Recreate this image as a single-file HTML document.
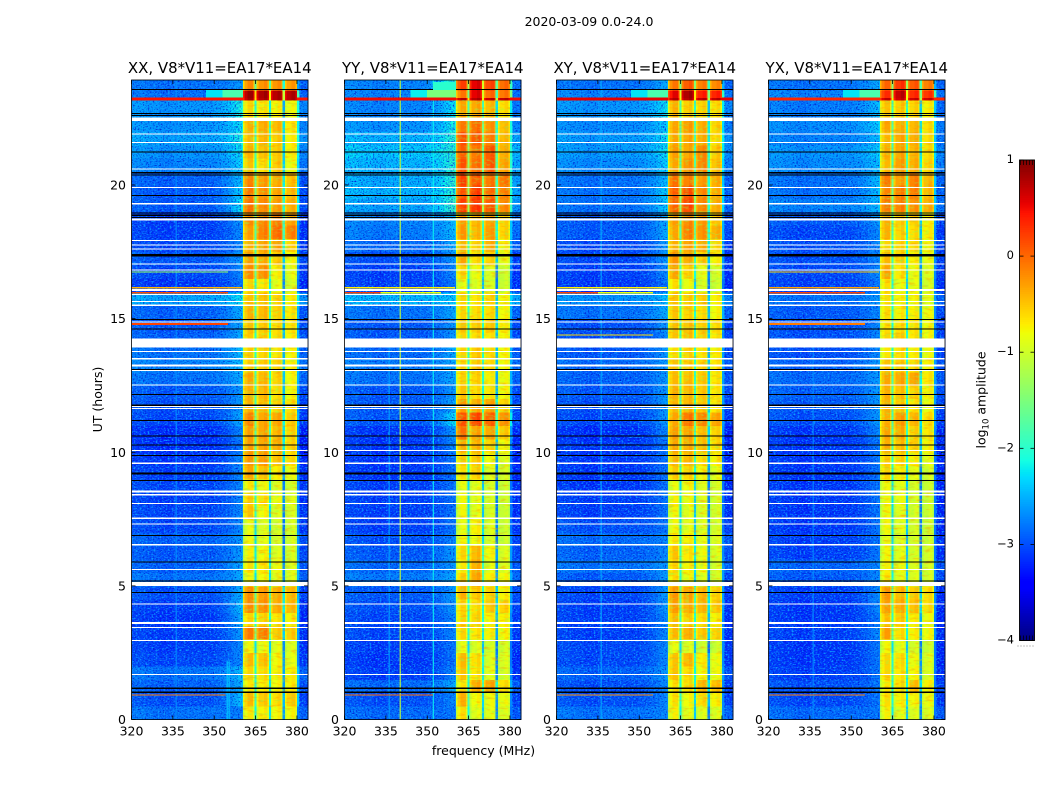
<!DOCTYPE html>
<html lang="en">
<head>
<meta charset="utf-8">
<title>2020-03-09 0.0-24.0 amplitude waterfall</title>
<style>
html,body{margin:0;padding:0;background:#fff;width:1050px;height:800px;overflow:hidden}
svg{display:block;font-family:"DejaVu Sans","Liberation Sans",sans-serif;fill:#000}
text{font-size:12.5px}
.ttl{font-size:14.95px}
</style>
</head>
<body>
<svg id="chart" xmlns="http://www.w3.org/2000/svg" width="1050" height="800" viewBox="0 0 1050 800">
<defs>
<filter id="grain-dark" color-interpolation-filters="sRGB" x="0" y="0" width="100%" height="100%"><feTurbulence type="fractalNoise" baseFrequency="0.6 0.75" numOctaves="2" seed="4"/><feColorMatrix type="matrix" values="0 0 0 0 0 0 0 0 0 0.08 0 0 0 0 0.8 3 0 0 0 -1.45"/></filter>
<filter id="grain-light" color-interpolation-filters="sRGB" x="0" y="0" width="100%" height="100%"><feTurbulence type="fractalNoise" baseFrequency="0.5 0.7" numOctaves="2" seed="11"/><feColorMatrix type="matrix" values="0 0 0 0 0.05 0 0 0 0 0.62 0 0 0 0 1 0 3.5 0 0 -1.72"/></filter>
<filter id="grain-band-warm" color-interpolation-filters="sRGB" x="0" y="0" width="100%" height="100%"><feTurbulence type="fractalNoise" baseFrequency="0.12 0.4" numOctaves="2" seed="7"/><feColorMatrix type="matrix" values="0 0 0 0 1 0 0 0 0 0.55 0 0 0 0 0 1.6 0 0 0 -0.85"/></filter>
<filter id="grain-band-cool" color-interpolation-filters="sRGB" x="0" y="0" width="100%" height="100%"><feTurbulence type="fractalNoise" baseFrequency="0.2 0.45" numOctaves="2" seed="19"/><feColorMatrix type="matrix" values="0 0 0 0 0.55 0 0 0 0 1 0 0 0 0 0.3 0 1.6 0 0 -0.85"/></filter>
</defs>
<text x="589" y="26" text-anchor="middle">2020-03-09 0.0-24.0</text>
<text x="483.5" y="755" text-anchor="middle">frequency (MHz)</text>
<text transform="translate(102,399.5) rotate(-90)" text-anchor="middle">UT (hours)</text>
<text transform="translate(985.5,400) rotate(-90)" text-anchor="middle">log<tspan dy="3" style="font-size:8.5px">10</tspan><tspan dy="-3"> amplitude</tspan></text>
<g id="panels"></g>
<g id="colorbar"></g>
</svg>
<script>
// Axis tick values
const freqTicks = [320, 335, 350, 365, 380];
const hourTicks = [0, 5, 10, 15, 20];
const colorTicks = [1, 0, -1, -2, -3, -4];
const panelTitles = ["XX, V8*V11=EA17*EA14", "YY, V8*V11=EA17*EA14", "XY, V8*V11=EA17*EA14", "YX, V8*V11=EA17*EA14"];

// Time-row edges (UT hours)
const hourEdges = [0,0.5,1,1.5,2,2.5,3,3.5,4,4.5,5,5.5,6,6.5,7,7.5,8,8.5,9,9.5,10,10.5,11,11.5,12,12.5,13,13.5,14,14.5,15,15.5,16,16.5,17,17.5,18,18.5,19,19.5,20,20.5,21,21.5,22,22.5,23.17,23.27,23.55,23.93];

// log10 amplitude per time row: [background, near-band, sub-band 1, 2, 3, 4]
const xxLevels = [
[-2.7,-2.75,-0.7,-0.7,-0.75,-0.75],[-2.9,-2.4,-0.45,-0.5,-0.6,-0.5],[-2.8,-2.5,-0.7,-0.7,-0.75,-0.7],[-2.7,-2.4,-0.6,-0.6,-0.7,-0.7],
[-2.95,-2.7,-0.45,-0.45,-0.75,-0.85],[-3,-2.7,-0.8,-0.8,-0.85,-0.9],[-3,-2.6,-0.1,-0.1,-0.5,-0.5],[-3.05,-2.5,-0.6,-0.55,-0.65,-0.7],
[-3,-2.4,-0.2,-0.2,-0.35,-0.4],[-2.9,-2.5,-0.2,-0.25,-0.35,-0.4],[-2.7,-2.5,-0.8,-0.75,-0.85,-0.9],[-2.8,-2.5,-0.65,-0.65,-0.8,-0.9],
[-2.85,-2.6,-0.75,-0.75,-0.9,-0.95],[-2.8,-2.6,-0.8,-0.85,-0.95,-0.95],[-2.95,-2.7,-0.85,-0.9,-0.95,-0.95],[-2.95,-2.7,-0.5,-0.75,-0.9,-0.95],
[-3,-2.7,-0.55,-0.6,-0.8,-0.9],[-2.95,-2.7,-0.7,-0.8,-0.9,-0.95],[-3,-2.7,-0.35,-0.45,-0.7,-0.8],[-3.05,-2.7,-0.25,-0.25,-0.45,-0.6],
[-3.1,-2.8,-0.3,-0.3,-0.35,-0.55],[-3.1,-2.7,-0.3,-0.3,-0.4,-0.55],[-2.95,-2.5,-0.15,-0.3,-0.3,-0.5],[-2.9,-2.6,-0.4,-0.45,-0.55,-0.6],
[-2.85,-2.6,-0.4,-0.4,-0.6,-0.75],[-2.7,-2.5,-0.35,-0.4,-0.55,-0.75],[-2.6,-2.4,-0.55,-0.5,-0.55,-0.7],[-2.7,-2.4,-0.55,-0.55,-0.65,-0.75],
[-2.8,-2.5,-0.55,-0.55,-0.6,-0.7],[-2.85,-2.5,-0.5,-0.5,-0.6,-0.65],[-2.8,-2.5,-0.4,-0.4,-0.55,-0.65],[-2.4,-2.2,-0.5,-0.45,-0.55,-0.7],
[-3.05,-2.8,-0.6,-0.65,-0.85,-0.95],[-2.95,-2.7,-0.2,-0.2,-0.7,-0.85],[-2.85,-2.6,-0.3,-0.35,-0.5,-0.75],[-2.95,-2.7,-0.4,-0.3,-0.3,-0.55],
[-3,-2.7,-0.3,-0.1,0,-0.1],[-3,-2.6,-0.2,-0.15,-0.1,-0.3],[-2.85,-2.2,-0.05,-0.15,-0.25,-0.35],[-2.85,-2.3,-0.1,-0.2,-0.3,-0.4],
[-2.8,-2.4,-0.15,-0.25,-0.35,-0.45],[-2.6,-2.3,-0.5,-0.6,-0.5,-0.8],[-2.5,-2.2,-0.4,-0.45,-0.5,-0.7],[-2.4,-2.1,-0.45,-0.4,-0.5,-0.7],
[-2.5,-2.2,-0.4,-0.35,-0.4,-0.65],[-2.5,-2.1,-0.6,-0.65,-0.7,-0.8],[0.4,0.45,0.8,0.8,0.8,0.8],[-2.7,-1.8,0.85,0.85,0.8,0.8],[-2.7,-2.6,-0.2,-0.2,-0.2,-0.25]];

const yyLevels = [
[-2.75,-2.8,-0.65,-0.85,-0.85,-0.9],[-2.9,-2.7,-0.4,-0.75,-0.8,-0.8],[-2.75,-2.5,-0.7,-0.35,-0.3,-0.6],[-3,-2.7,-0.5,-0.65,-0.85,-0.95],
[-3.05,-2.8,-0.45,-0.6,-0.9,-0.9],[-3,-2.8,-0.85,-0.9,-0.95,-0.95],[-2.95,-2.7,-0.6,-0.65,-0.7,-0.75],[-2.95,-2.7,-0.6,-0.55,-0.7,-0.7],
[-2.9,-2.6,-0.6,-0.6,-0.5,-0.55],[-2.85,-2.6,-0.4,-0.5,-0.55,-0.7],[-2.65,-2.5,-0.55,-0.3,-0.7,-0.75],[-2.75,-2.6,-0.7,-0.35,-0.85,-0.9],
[-2.85,-2.6,-0.6,-0.4,-0.75,-0.9],[-2.9,-2.7,-0.8,-0.75,-0.95,-1],[-3,-2.8,-0.85,-0.7,-0.9,-1],[-3,-2.8,-0.8,-0.85,-0.95,-1],
[-3,-2.8,-0.8,-0.85,-0.95,-1],[-3,-2.8,-0.85,-0.85,-0.95,-1],[-3.05,-2.8,-0.65,-0.55,-0.9,-0.95],[-3.05,-2.8,-0.55,-0.5,-0.75,-0.9],
[-3.05,-2.7,-0.4,-0.4,-0.55,-0.75],[-3.05,-2.6,-0.05,-0.3,-0.3,-0.5],[-2.85,-2.2,0.1,0.2,0.05,-0.2],[-2.85,-2.5,-0.3,-0.35,-0.3,-0.55],
[-2.85,-2.6,-0.5,-0.6,-0.65,-0.75],[-2.7,-2.5,-0.6,-0.55,-0.7,-0.8],[-2.65,-2.5,-0.6,-0.5,-0.6,-0.75],[-2.75,-2.5,-0.6,-0.5,-0.6,-0.75],
[-2.85,-2.6,-0.6,-0.6,-0.65,-0.75],[-2.85,-2.6,-0.5,-0.5,-0.5,-0.7],[-2.7,-2.5,-0.6,-0.6,-0.6,-0.75],[-2.3,-2.3,-0.6,-0.65,-0.55,-0.75],
[-3,-2.8,-0.85,-0.9,-0.95,-1],[-3,-2.7,-0.6,-0.8,-0.9,-1],[-2.9,-2.6,-0.35,-0.6,-0.55,-0.85],[-2.75,-2.5,-0.45,-0.55,-0.35,-0.7],
[-2.65,-2.4,-0.25,-0.4,-0.25,-0.55],[-2.6,-2.4,-0.3,-0.4,-0.3,-0.55],[-2.4,-1.9,0.2,0.3,0.1,-0.15],[-2.3,-2,0.1,0.25,0,-0.1],
[-2.35,-2,0.2,0.1,-0.05,-0.05],[-2.3,-2,0.1,0,0.1,-0.3],[-2.2,-2,0.05,-0.05,0.1,-0.35],[-2.3,-2,0.1,0.1,-0.1,-0.4],
[-2.5,-2.1,-0.1,0,-0.2,-0.45],[-2.6,-2.2,-0.35,-0.3,-0.4,-0.6],[0.4,0.5,0.75,0.8,0.75,0.75],[-2.6,-1.5,-0.1,0.6,0,-0.05],[-2.6,-1.9,0.2,0.6,0.2,0]];

const xyLevels = [
[-2.7,-2.7,-0.75,-0.85,-0.9,-0.9],[-2.9,-2.7,-0.65,-0.75,-0.6,-0.7],[-2.9,-2.7,-0.65,-0.6,-0.4,-0.45],[-2.8,-2.6,-0.5,-0.6,-0.75,-0.8],
[-2.95,-2.7,-0.5,-0.4,-0.7,-0.8],[-2.95,-2.7,-0.85,-0.9,-1,-1],[-3,-2.7,-0.45,-0.35,-0.5,-0.55],[-3,-2.7,-0.45,-0.55,-0.6,-0.7],
[-3,-2.6,-0.3,-0.35,-0.4,-0.5],[-2.95,-2.6,-0.25,-0.3,-0.4,-0.55],[-2.85,-2.6,-0.65,-0.8,-0.9,-0.95],[-2.7,-2.6,-0.6,-0.7,-0.8,-0.95],
[-2.8,-2.7,-0.5,-0.65,-0.8,-0.9],[-2.75,-2.7,-0.7,-0.7,-0.85,-0.9],[-2.9,-2.8,-0.8,-0.85,-0.9,-0.95],[-3,-2.8,-0.8,-0.85,-0.9,-0.95],
[-3,-2.8,-0.75,-0.8,-0.9,-0.95],[-3.05,-2.8,-0.85,-0.75,-0.9,-0.95],[-3.05,-2.8,-0.55,-0.55,-0.75,-0.85],[-3.05,-2.8,-0.45,-0.4,-0.6,-0.7],
[-3.05,-2.8,-0.35,-0.35,-0.45,-0.6],[-3.1,-2.7,-0.3,-0.3,-0.45,-0.55],[-2.95,-2.6,-0.35,-0.05,-0.15,-0.3],[-2.9,-2.6,-0.45,-0.4,-0.5,-0.65],
[-2.85,-2.6,-0.4,-0.4,-0.5,-0.65],[-2.8,-2.6,-0.45,-0.45,-0.5,-0.65],[-2.75,-2.6,-0.5,-0.5,-0.55,-0.65],[-2.85,-2.6,-0.65,-0.55,-0.65,-0.7],
[-2.9,-2.7,-0.5,-0.45,-0.55,-0.65],[-2.9,-2.6,-0.5,-0.45,-0.55,-0.6],[-2.7,-2.5,-0.5,-0.55,-0.6,-0.75],[-2.5,-2.4,-0.5,-0.5,-0.55,-0.7],
[-3.05,-2.8,-0.65,-0.8,-0.95,-1],[-3,-2.7,-0.35,-0.55,-0.85,-0.95],[-2.95,-2.6,-0.25,-0.35,-0.55,-0.7],[-2.95,-2.6,-0.4,-0.3,-0.35,-0.6],
[-2.85,-2.5,-0.35,-0.1,-0.2,-0.35],[-2.85,-2.5,-0.3,-0.15,-0.25,-0.5],[-2.7,-2.3,0,0.2,-0.15,-0.35],[-2.7,-2.3,0.05,0.15,-0.15,-0.35],
[-2.7,-2.4,-0.05,-0.1,-0.25,-0.35],[-2.55,-2.3,-0.35,-0.2,-0.15,-0.45],[-2.45,-2.2,-0.3,-0.3,-0.15,-0.5],[-2.45,-2.2,-0.35,-0.3,-0.35,-0.6],
[-2.55,-2.3,-0.35,-0.25,-0.35,-0.55],[-2.5,-2.2,-0.4,-0.5,-0.55,-0.6],[0.5,0.55,0.75,0.8,0.75,0.75],[-2.6,-1.9,0.55,0.85,0.4,0.4],[-2.7,-2.5,-0.1,0.1,-0.1,-0.15]];

const yxLevels = [
[-2.75,-2.8,-0.75,-0.85,-0.9,-0.9],[-2.95,-2.8,-0.65,-0.7,-0.75,-0.8],[-2.9,-2.8,-0.7,-0.6,-0.45,-0.7],[-3,-2.8,-0.6,-0.65,-0.75,-0.9],
[-3.05,-2.8,-0.6,-0.6,-0.8,-0.9],[-3.05,-2.8,-0.8,-0.85,-0.95,-1],[-3,-2.7,-0.3,-0.6,-0.7,-0.75],[-3.05,-2.8,-0.5,-0.5,-0.7,-0.8],
[-3.05,-2.7,-0.3,-0.35,-0.45,-0.6],[-3,-2.7,-0.25,-0.4,-0.5,-0.6],[-2.85,-2.7,-0.7,-0.85,-0.9,-0.95],[-2.8,-2.7,-0.75,-0.8,-0.9,-0.95],
[-3,-2.8,-0.8,-0.85,-0.95,-0.95],[-3,-2.8,-0.85,-0.9,-0.95,-1],[-3.05,-2.8,-0.8,-0.85,-0.95,-1],[-3.05,-2.8,-0.8,-0.85,-0.95,-1],
[-3.05,-2.8,-0.8,-0.8,-0.95,-1],[-3.05,-2.8,-0.8,-0.85,-0.95,-1],[-3.05,-2.8,-0.6,-0.7,-0.85,-0.95],[-3.05,-2.8,-0.55,-0.55,-0.7,-0.85],
[-3.05,-2.8,-0.4,-0.45,-0.55,-0.7],[-3.05,-2.7,-0.35,-0.35,-0.55,-0.65],[-2.9,-2.6,-0.4,-0.25,-0.4,-0.6],[-2.85,-2.6,-0.4,-0.5,-0.65,-0.8],
[-2.8,-2.6,-0.4,-0.45,-0.55,-0.7],[-2.75,-2.6,-0.35,-0.3,-0.3,-0.65],[-2.8,-2.6,-0.5,-0.5,-0.6,-0.7],[-2.9,-2.7,-0.7,-0.6,-0.7,-0.8],
[-2.9,-2.7,-0.6,-0.5,-0.65,-0.75],[-2.9,-2.7,-0.65,-0.6,-0.65,-0.75],[-2.85,-2.7,-0.65,-0.7,-0.7,-0.8],[-2.7,-2.6,-0.65,-0.7,-0.75,-0.85],
[-3,-2.8,-0.65,-0.8,-0.85,-0.95],[-2.95,-2.7,-0.35,-0.65,-0.8,-0.9],[-2.9,-2.7,-0.45,-0.55,-0.7,-0.8],[-2.9,-2.7,-0.6,-0.55,-0.6,-0.75],
[-2.95,-2.7,-0.4,-0.55,-0.6,-0.7],[-2.85,-2.6,-0.4,-0.5,-0.55,-0.7],[-2.6,-2.4,-0.1,-0.1,-0.2,-0.35],[-2.7,-2.4,-0.15,-0.1,-0.1,-0.4],
[-2.7,-2.4,-0.1,-0.25,-0.1,-0.4],[-2.55,-2.4,-0.45,-0.25,-0.35,-0.55],[-2.5,-2.3,-0.4,-0.3,-0.4,-0.6],[-2.6,-2.4,-0.45,-0.3,-0.35,-0.6],
[-2.55,-2.3,-0.35,-0.35,-0.4,-0.6],[-2.65,-2.4,-0.5,-0.5,-0.55,-0.7],[0.35,0.4,0.7,0.7,0.7,0.7],[-2.6,-1.8,0.3,0.75,0.35,0.3],[-2.7,-2.5,0,0.3,0.1,-0.1]];

// Band-pass channels: start MHz, which level column, offset from the level
const bandEdges   = [360.4,360.9,362,364,364.6,365.4,366,368,369.4,369.8,370.6,371.2,373,374.4,374.8,375.6,376.2,378,379.4,380];
const bandSource  = [2,2,2,2,2,3,3,3,3,3,4,4,4,4,4,5,5,5,5];
const bandOffset  = [-0.42,-0.12,0.04,-0.22,-1.45,-0.28,-0.05,0.04,-0.22,-1.55,-0.28,-0.05,0.04,-0.22,-1.85,-0.28,-0.05,0.04,-0.2];
// Slow tilt of the off-band background, one value per 5 MHz from 320 to 350
const backgroundTilt = [0.05,0,-0.05,0,0,0];
// Share of the near-band level per MHz from 350 to 360
const rampShare = [0.1,0.15,0.2,0.3,0.4,0.5,0.65,0.8,0.9,1];
// Measured overall offset of the off-band background
const backgroundOffset = -0.1;

// Rows flagged out (white), [start hour, end hour]
const flaggedRows = [[22.4,22.53],[21.89,21.93],[21.57,21.61],[20.59,20.62],[19.89,19.93],[19.28,19.32],[18.67,18.75],[17.9,17.94],[17.74,17.78],[17.59,17.63],[17.02,17.06],[16.8,16.84],[16.04,16.1],[15.89,15.93],[15.62,15.66],[15.48,15.52],[14.85,14.89],[13.92,14.26],[13.75,13.79],[13.48,13.52],[13.2,13.28],[13.04,13.08],[12.5,12.54],[11.7,11.74],[11.62,11.66],[10.04,10.08],[9.57,9.61],[8.5,8.56],[8.39,8.43],[8.06,8.1],[7.5,7.56],[7.29,7.33],[6.52,6.56],[5.6,5.64],[5,5.15],[4.3,4.34],[3.58,3.64],[3.42,3.46],[2.93,2.97],[1.66,1.7]];
// Rows rendered black, centre hour
const blackRows = [23.59,22.7,22.62,21.26,20.48,20.4,19.63,18.97,18.89,18.81,17.41,17.36,14.99,14.63,13.12,12.18,11.78,11.21,10.63,10.29,9.9,9.25,9.21,8.96,6.9,5.92,5.2,4.78,1.19,1.04];
// Narrow interference in time: [hour, from MHz, to MHz, log10 amplitude, duration hours]
const xxHotRows = [[23.17,320,360.4,0.45,0.1],[23.17,380,384,0.45,0.1],[23.27,347,353,-2.25,0.28],[23.27,353,360.4,-1.8,0.28],[16.72,320,355,-1.3,0.05],[16.12,320,360,-0.4,0.06],[15.94,320,355,0.15,0.06],[14.77,320,355,0.2,0.06],[0.89,320,354,-0.1,0.05]];
const yyHotRows = [[23.17,320,360.4,0.5,0.1],[23.17,380,384,0.5,0.1],[23.27,344,350,-2.2,0.28],[23.27,350,360.4,-1.5,0.28],[23.55,352,360.4,-2,0.3],[16.12,320,360,-0.7,0.06],[15.94,320,333,0.25,0.06],[15.94,333,355,-0.8,0.06],[0.89,320,352,0,0.05]];
const xyHotRows = [[23.17,320,360.4,0.55,0.1],[23.17,380,384,0.55,0.1],[23.27,347,353,-2.25,0.28],[23.27,353,360.4,-1.8,0.28],[16.12,320,360,-0.7,0.06],[15.94,320,335,0.2,0.06],[15.94,335,355,-0.8,0.06],[14.36,320,355,-0.6,0.05],[0.89,320,355,-0.2,0.05]];
const yxHotRows = [[23.17,320,360.4,0.35,0.1],[23.17,380,384,0.35,0.1],[23.27,347,353,-2.25,0.28],[23.27,353,360.4,-1.8,0.28],[16.72,320,360,-0.5,0.05],[16.12,320,360,-0.3,0.06],[15.94,320,355,0.2,0.06],[14.77,320,355,-0.1,0.06],[0.89,320,355,-0.1,0.05]];
// Narrow interference in frequency: [MHz, from hour, to hour, log10 amplitude]
const xxHotChannels = [[336,0,23.93,-2.7],[354.5,0,2.2,-2.4],[355.2,0,2.2,-2.4]];
const yyHotChannels = [[340,0,23.93,-1.05],[352,0,23.93,-2.2],[336,0,14,-2.6]];
const xyHotChannels = [[336,0,23.93,-2.55]];
const yxHotChannels = [[336,0,14,-2.7]];

const panelLevels = [xxLevels, yyLevels, xyLevels, yxLevels];
const panelHotRows = [xxHotRows, yyHotRows, xyHotRows, yxHotRows];
const panelHotChannels = [xxHotChannels, yyHotChannels, xyHotChannels, yxHotChannels];

// Layout
const panelLeft = [131.5, 344.5, 556.5, 768.5];
const plotWidth = 176.5, plotTop = 80, plotBottom = 719.5;
const freqMin = 320, freqMax = 384, hourMax = 23.93;
const pxPerMHz = plotWidth / (freqMax - freqMin);
const pxPerHour = (plotBottom - plotTop) / hourMax;
const textureTopHour = 23.17;
const SVGNS = 'http://www.w3.org/2000/svg';

function xAxis(left, f) { return left + (f - freqMin) * pxPerMHz; }
function yAxis(h) { return plotBottom - h * pxPerHour; }
function seg(t, pts) {
  for (let i = 1; i < pts.length; i++) {
    if (t <= pts[i][0]) {
      const a = pts[i - 1], b = pts[i];
      return a[1] + (b[1] - a[1]) * (t - a[0]) / (b[0] - a[0]);
    }
  }
  return pts[pts.length - 1][1];
}
function jet(v) {
  const t = Math.max(0, Math.min(1, (v + 4) / 5));
  const r = seg(t, [[0,0],[0.35,0],[0.66,1],[0.89,1],[1,0.5]]);
  const g = seg(t, [[0,0],[0.125,0],[0.375,1],[0.64,1],[0.91,0],[1,0]]);
  const b = seg(t, [[0,0.5],[0.11,1],[0.34,1],[0.65,0],[1,0]]);
  return 'rgb(' + Math.round(r * 255) + ',' + Math.round(g * 255) + ',' + Math.round(b * 255) + ')';
}
function mk(parent, tag, attrs) {
  const el = document.createElementNS(SVGNS, tag);
  for (const k in attrs) el.setAttribute(k, attrs[k]);
  parent.appendChild(el);
  return el;
}
function columnsFor(row) {
  const cols = [];
  const bg = row[0] + backgroundOffset;
  for (let f = freqMin; f < 350; f++) {
    cols.push([f, f + 1, bg + backgroundTilt[Math.floor((f - freqMin) / 5)]]);
  }
  for (let f = 350; f < 360; f++) {
    const share = rampShare[f - 350];
    cols.push([f, f + 1, bg + (row[1] - bg) * share]);
  }
  cols.push([360, 360.4, row[1]]);
  for (let i = 0; i < bandSource.length; i++) {
    cols.push([bandEdges[i], bandEdges[i + 1], row[bandSource[i]] + bandOffset[i]]);
  }
  cols.push([380, 380.9, row[1]]);
  cols.push([380.9, freqMax, bg - 0.1]);
  return cols;
}

const panelsRoot = document.getElementById('panels');
panelTitles.forEach(function (title, p) {
  const left = panelLeft[p];
  const right = left + plotWidth;
  const g = mk(panelsRoot, 'g', {});
  
  

  const cells = mk(g, 'g', { 'shape-rendering': 'crispEdges' });
  
  
  panelLevels[p].forEach(function (row, r) {
    const y0 = yAxis(hourEdges[r + 1]), y1 = yAxis(hourEdges[r]);
    columnsFor(row).forEach(function (c) {
      const x0 = xAxis(left, c[0]), x1 = xAxis(left, c[1]);
      const cell = mk(cells, 'rect', { x: x0.toFixed(2), y: y0.toFixed(2), width: (x1 - x0 + 0.4).toFixed(2), height: (y1 - y0 + 0.4).toFixed(2), fill: jet(c[2]) });
      
      
    });
  });

  // Speckle texture (decorative, not data)
  [[freqMin, 360], [380.9, freqMax]].forEach(function (span) {
    ['grain-dark', 'grain-light'].forEach(function (id) {
      const tex = mk(g, 'rect', { x: xAxis(left, span[0]), y: plotTop, width: xAxis(left, span[1]) - xAxis(left, span[0]), height: plotBottom - plotTop, filter: 'url(#' + id + ')' });
      
      
    });
  });
  ['grain-band-warm', 'grain-band-cool'].forEach(function (id) {
    const tex = mk(g, 'rect', { x: xAxis(left, 360.4), y: yAxis(textureTopHour), width: xAxis(left, 380) - xAxis(left, 360.4), height: plotBottom - yAxis(textureTopHour), filter: 'url(#' + id + ')' });
    
    
  });

  panelHotChannels[p].forEach(function (c) {
    const line = mk(g, 'rect', { x: xAxis(left, c[0]), y: yAxis(c[2]), width: 1.1, height: yAxis(c[1]) - yAxis(c[2]), fill: jet(c[3]) });
    
    
  });
  const rowMarks = mk(g, 'g', { 'shape-rendering': 'crispEdges' });
  
  
  blackRows.forEach(function (h) {
    const line = mk(rowMarks, 'rect', { x: left, y: yAxis(h), width: plotWidth, height: 1.1, fill: '#000' });
    
    
  });
  flaggedRows.forEach(function (s) {
    const band = mk(rowMarks, 'rect', { x: left, y: yAxis(s[1]), width: plotWidth, height: yAxis(s[0]) - yAxis(s[1]), fill: '#fff' });
    
    
  });
  panelHotRows[p].forEach(function (c) {
    const line = mk(rowMarks, 'rect', { x: xAxis(left, c[1]), y: yAxis(c[0] + c[4]), width: xAxis(left, c[2]) - xAxis(left, c[1]), height: c[4] * pxPerHour, fill: jet(c[3]) });
    
    
  });

  const frame = mk(g, 'rect', { x: left, y: plotTop, width: plotWidth, height: plotBottom - plotTop, fill: 'none', stroke: '#000', 'stroke-width': 0.8 });
  
  

  freqTicks.forEach(function (f) {
    const x = xAxis(left, f);
    const t1 = mk(g, 'line', { x1: x, x2: x, y1: plotBottom, y2: plotBottom - 4, stroke: '#000', 'stroke-width': 0.8 });
    
    
    const t2 = mk(g, 'line', { x1: x, x2: x, y1: plotTop, y2: plotTop + 4, stroke: '#000', 'stroke-width': 0.8 });
    
    
    const lab = mk(g, 'text', { x: x, y: 735.5, 'text-anchor': 'middle' });
    lab.textContent = f;
    
    
  });
  hourTicks.forEach(function (h) {
    const y = yAxis(h);
    const t1 = mk(g, 'line', { x1: left, x2: left + 4, y1: y, y2: y, stroke: '#000', 'stroke-width': 0.8 });
    
    
    const t2 = mk(g, 'line', { x1: right, x2: right - 4, y1: y, y2: y, stroke: '#000', 'stroke-width': 0.8 });
    
    
    const lab = mk(g, 'text', { x: left - 5.5, y: y + 4.5, 'text-anchor': 'end' });
    lab.textContent = h;
    
    
  });

  const ttl = mk(g, 'text', { x: left + plotWidth / 2, y: 73, 'text-anchor': 'middle', 'class': 'ttl' });
  ttl.textContent = title;
  
  
});

// Colorbar
const cbLeft = 1019.5, cbWidth = 15, cbTop = 160, cbBottom = 640.5;
const cbMin = -4, cbMax = 1;
function cbY(v) { return cbBottom - (v - cbMin) / (cbMax - cbMin) * (cbBottom - cbTop); }
const cbRoot = document.getElementById('colorbar');
const cbStrip = mk(cbRoot, 'g', { 'shape-rendering': 'crispEdges' });


for (let i = 0; i < 256; i++) {
  const v0 = cbMin + (cbMax - cbMin) * i / 256, v1 = cbMin + (cbMax - cbMin) * (i + 1) / 256;
  const s = mk(cbStrip, 'rect', { x: cbLeft, y: cbY(v1).toFixed(2), width: cbWidth, height: (cbY(v0) - cbY(v1) + 0.5).toFixed(2), fill: jet((v0 + v1) / 2) });
  
  
}
const cbFrame = mk(cbRoot, 'rect', { x: cbLeft, y: cbTop, width: cbWidth, height: cbBottom - cbTop, fill: 'none', stroke: '#000', 'stroke-width': 0.9 });


colorTicks.forEach(function (v) {
  const y = cbY(v);
  const a = mk(cbRoot, 'line', { x1: cbLeft, x2: cbLeft + 4, y1: y, y2: y, stroke: '#000', 'stroke-width': 0.8 });
  
  
  const b = mk(cbRoot, 'line', { x1: cbLeft + cbWidth, x2: cbLeft + cbWidth - 4, y1: y, y2: y, stroke: '#000', 'stroke-width': 0.8 });
  
  
  const lab = mk(cbRoot, 'text', { x: 1014, y: y + 3, 'text-anchor': 'end', style: 'font-size:11.5px' });
  lab.textContent = v < 0 ? '\u2212' + Math.abs(v) : String(v);
  
  
});
[1, 4, 7, 10, 13].forEach(function (dx) {
  const top = mk(cbRoot, 'line', { x1: cbLeft + dx, x2: cbLeft + dx, y1: cbTop, y2: cbTop + 5, stroke: '#000', 'stroke-width': 0.7 });
  
  
  const bot = mk(cbRoot, 'line', { x1: cbLeft + dx, x2: cbLeft + dx, y1: cbBottom, y2: cbBottom - 5, stroke: '#000', 'stroke-width': 0.7 });
  
  
});
const dots = mk(cbRoot, 'line', { x1: 1017.5, x2: 1035, y1: 646, y2: 646, stroke: '#888', 'stroke-width': 1, 'stroke-dasharray': '1 2' });


</script>
</body>
</html>
